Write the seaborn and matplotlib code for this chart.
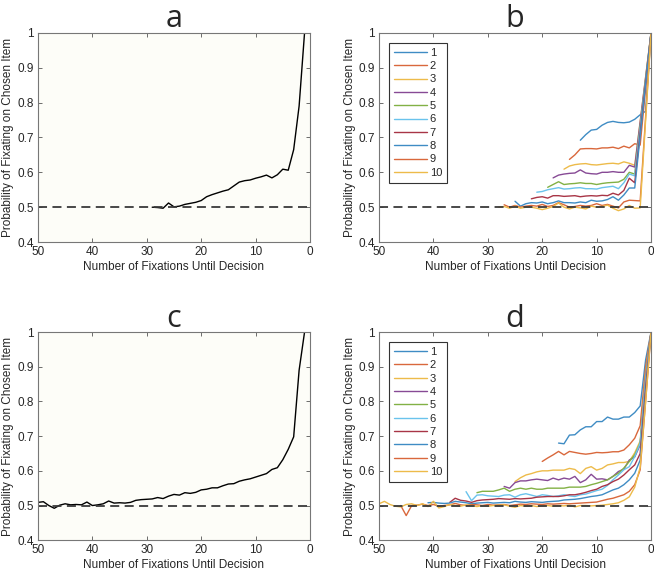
import numpy as np
import pandas as pd
import matplotlib.pyplot as plt
import seaborn as sns
from matplotlib.lines import Line2D

# Pooled data (panels a and c), x = fixations until decision
A_X = list(range(29, 0, -1))
A_Y = [0.500, 0.499, 0.497, 0.512, 0.501, 0.503, 0.508, 0.511, 0.514, 0.519,
       0.530, 0.536, 0.541, 0.546, 0.550, 0.561, 0.572, 0.576, 0.578, 0.583,
       0.587, 0.592, 0.584, 0.593, 0.609, 0.606, 0.665, 0.790, 1.000]

C_X = list(range(50, 0, -1))
C_Y = [0.509, 0.511, 0.500, 0.492, 0.501, 0.505, 0.502, 0.503, 0.502, 0.510,
       0.500, 0.502, 0.505, 0.513, 0.507, 0.508, 0.507, 0.509, 0.515, 0.517,
       0.518, 0.519, 0.523, 0.520, 0.527, 0.532, 0.530, 0.537, 0.535, 0.538,
       0.545, 0.547, 0.551, 0.551, 0.557, 0.562, 0.563, 0.570, 0.574, 0.577,
       0.582, 0.587, 0.592, 0.604, 0.609, 0.632, 0.662, 0.698, 0.890, 1.000]

# Per-group curves (panels b and d); each list runs from its first x down to x = 0
B1 = [0.692, 0.708, 0.721, 0.723, 0.735, 0.743, 0.746, 0.743, 0.742, 0.744, 0.752, 0.765, 0.775, 1.0]
B2 = [0.637, 0.650, 0.667, 0.668, 0.668, 0.667, 0.670, 0.670, 0.672, 0.668, 0.675, 0.670, 0.682, 0.678,
      None, 1.0]
B3 = [0.609, 0.618, 0.622, 0.624, 0.625, 0.622, 0.621, 0.623, 0.625, 0.626, 0.624, 0.630, 0.626, 0.620,
      None, None, 1.0]
B4 = [0.584, 0.592, 0.595, 0.597, 0.598, 0.607, 0.598, 0.596, 0.595, 0.600, 0.600, 0.602, 0.600, 0.600,
      0.620, 0.615, None, None, 1.0]
B5 = [0.557, 0.565, 0.573, 0.565, 0.567, 0.568, 0.570, 0.568, 0.568, 0.565, 0.568, 0.570, 0.571, 0.572,
      0.580, 0.600, 0.595, None, None, 1.0]
B6 = [0.543, 0.545, 0.550, 0.553, 0.556, 0.552, 0.553, 0.555, 0.556, 0.553, 0.553, 0.552, 0.556, 0.558,
      0.560, 0.553, 0.570, 0.595, 0.590, None, None, 1.0]
B7 = [0.524, 0.528, 0.530, 0.526, 0.533, 0.533, 0.531, 0.532, 0.533, 0.530, 0.532, 0.533, 0.532, 0.534,
      0.533, 0.540, 0.535, 0.548, 0.583, 0.570, None, None, 1.0]
B8 = [0.517, 0.503, 0.510, 0.513, 0.512, 0.515, 0.510, 0.513, 0.518, 0.513, 0.513, 0.512, 0.515, 0.513,
      0.520, 0.517, 0.518, 0.522, 0.530, 0.520, 0.535, 0.555, 0.555, None, None, 1.0]
B9 = [0.507, 0.500, 0.505, 0.500, 0.503, 0.505, 0.503, 0.508, 0.502, 0.505, 0.513, 0.507, 0.500, 0.502,
      0.505, 0.503, 0.505, 0.510, 0.505, 0.508, 0.503, 0.498, 0.515, 0.520, 0.519, 0.518, None, 1.0]
B10 = [0.500, 0.502, 0.497, 0.503, 0.497, 0.500, 0.500, 0.497, 0.493, 0.497, 0.502, 0.512, 0.500, 0.495,
       0.500, 0.498, 0.495, 0.503, 0.500, 0.502, 0.506, 0.497, 0.490, 0.495, 0.505, 0.497, 0.498, None, 1.0]

D1 = [0.680, 0.678, 0.703, 0.704, 0.718, 0.727, 0.727, 0.742, 0.742, 0.755, 0.749, 0.749, 0.755, 0.755,
      0.768, 0.787, 0.920, 1.0]
D2 = [0.627, 0.637, 0.646, 0.656, 0.646, 0.656, 0.653, 0.650, 0.648, 0.650, 0.653, 0.652, 0.653, 0.655,
      0.655, 0.660, 0.675, 0.694, 0.730, 0.900, 1.0]
D3 = [0.569, 0.580, 0.588, 0.592, 0.597, 0.600, 0.600, 0.602, 0.602, 0.602, 0.607, 0.604, 0.592, 0.607,
      0.612, 0.602, 0.607, 0.617, 0.620, 0.624, 0.624, 0.627, 0.652, 0.686, 0.880, 1.0]
D4 = [0.555, 0.550, 0.566, 0.571, 0.571, 0.574, 0.576, 0.574, 0.572, 0.579, 0.574, 0.579, 0.576, 0.584,
      0.566, 0.574, 0.590, 0.576, 0.577, 0.574, 0.584, 0.598, 0.605, 0.631, 0.640, 0.675, 0.870, 1.0]
D5 = [0.537, 0.541, 0.541, 0.541, 0.545, 0.550, 0.541, 0.547, 0.550, 0.547, 0.550, 0.547, 0.547, 0.550,
      0.550, 0.550, 0.550, 0.553, 0.553, 0.553, 0.555, 0.560, 0.564, 0.569, 0.574, 0.584, 0.593, 0.608,
      0.627, 0.646, 0.680, 0.860, 1.0]
D6 = [0.540, 0.514, 0.530, 0.531, 0.528, 0.527, 0.526, 0.530, 0.531, 0.524, 0.531, 0.534, 0.530, 0.526,
      0.531, 0.529, 0.526, 0.528, 0.531, 0.528, 0.526, 0.531, 0.533, 0.538, 0.543, 0.547, 0.558, 0.574,
      0.588, 0.603, 0.612, 0.641, 0.680, 0.860, 1.0]
D7 = [0.509, 0.521, 0.515, 0.513, 0.509, 0.514, 0.516, 0.517, 0.518, 0.520, 0.519, 0.518, 0.520, 0.519,
      0.520, 0.521, 0.524, 0.525, 0.526, 0.526, 0.526, 0.528, 0.531, 0.531, 0.534, 0.538, 0.543, 0.547,
      0.555, 0.560, 0.569, 0.576, 0.588, 0.603, 0.617, 0.650, 0.840, 1.0]
D8 = [0.508, 0.509, 0.507, 0.506, 0.507, 0.512, 0.510, 0.508, 0.505, 0.507, 0.508, 0.509, 0.507, 0.508,
      0.509, 0.508, 0.512, 0.510, 0.509, 0.511, 0.510, 0.509, 0.511, 0.512, 0.513, 0.516, 0.517, 0.518,
      0.520, 0.523, 0.526, 0.528, 0.531, 0.538, 0.545, 0.550, 0.560, 0.574, 0.593, 0.631, 0.820, 1.0]
D9 = [0.500, 0.471, 0.500, 0.501, 0.504, 0.500, 0.503, 0.498, 0.500, 0.502, 0.506, 0.502, 0.500, 0.503,
      0.502, 0.500, 0.503, 0.501, 0.502, 0.503, 0.500, 0.502, 0.504, 0.503, 0.505, 0.504, 0.503, 0.505,
      0.504, 0.505, 0.506, 0.505, 0.506, 0.507, 0.508, 0.509, 0.510, 0.514, 0.518, 0.521, 0.526, 0.531,
      0.541, 0.560, 0.603, 0.800, 1.0]
D10 = [0.505, 0.512, 0.503, 0.498, 0.496, 0.503, 0.505, 0.500, 0.505, 0.497, 0.512, 0.493, 0.497, 0.503,
       0.500, 0.498, 0.502, 0.500, 0.497, 0.500, 0.498, 0.500, 0.501, 0.502, 0.498, 0.495, 0.500, 0.498,
       0.500, 0.497, 0.499, 0.500, 0.498, 0.500, 0.499, 0.501, 0.496, 0.500, 0.500, 0.499, 0.500, 0.501,
       0.503, 0.505, 0.508, 0.515, 0.525, 0.553, 0.610, 0.800, 1.0]

SERIES = [str(i) for i in range(1, 11)]
B_LINES = [B1, B2, B3, B4, B5, B6, B7, B8, B9, B10]
D_LINES = [D1, D2, D3, D4, D5, D6, D7, D8, D9, D10]

X_TICKS = [0, 10, 20, 30, 40, 50]
Y_TICKS = [0.4, 0.5, 0.6, 0.7, 0.8, 0.9, 1.0]
Y_TICKLABELS = ["0.4", "0.5", "0.6", "0.7", "0.8", "0.9", "1"]

# matlab-ish line colours (slightly washed out like the source image)
COLORS = ["#3f8cc4", "#d9683c", "#edbb4a", "#874a95", "#82b145",
          "#6ac3ec", "#a83546", "#3f8cc4", "#d9683c", "#edbb4a"]


def to_long(lines):
    rows = []
    for name, vals in zip(SERIES, lines):
        n = len(vals)
        for i, v in enumerate(vals):
            rows.append({"x": n - 1 - i, "p": np.nan if v is None else v, "group": name})
    return pd.DataFrame(rows).dropna()


sns.set_style("ticks")
plt.rcParams["font.family"] = ["Liberation Sans", "DejaVu Sans"]

fig = plt.figure(figsize=(6.54, 5.75), dpi=100)
pos = {
    "a": [0.058, 0.579, 0.416, 0.364],
    "b": [0.5795, 0.579, 0.416, 0.364],
    "c": [0.058, 0.0605, 0.416, 0.362],
    "d": [0.5795, 0.0605, 0.416, 0.362],
}
axes = {k: fig.add_axes(v) for k, v in pos.items()}

# single-curve panels
for key, xs, ys in [("a", A_X, A_Y), ("c", C_X, C_Y)]:
    ax = axes[key]
    ax.set_facecolor("#fdfdf8")
    sns.lineplot(x=xs, y=ys, color="black", lw=1.0, ax=ax)

# grouped panels
for key, lines in [("b", B_LINES), ("d", D_LINES)]:
    ax = axes[key]
    df = to_long(lines)
    sns.lineplot(data=df, x="x", y="p", hue="group", hue_order=SERIES,
                 palette=COLORS, lw=1.0, ax=ax, legend=False, sort=False)
    handles = [Line2D([0], [0], color=c, lw=1.0) for c in COLORS]
    leg = ax.legend(handles, SERIES, loc="upper left", bbox_to_anchor=(0.037, 0.952),
                    borderaxespad=0, fontsize=8, handlelength=3.0, labelspacing=0.3,
                    handletextpad=0.2, borderpad=0.45, fancybox=False, framealpha=1)
    leg.get_frame().set_edgecolor("#333333")
    leg.get_frame().set_linewidth(0.8)

for key, ax in axes.items():
    ax.axhline(0.5, color="#3a3a3a", lw=1.3, ls=(0, (5, 3)))
    ax.set_xlim(50, 0)
    ax.set_ylim(0.4, 1.0)
    ax.set_xticks(X_TICKS)
    ax.set_xticklabels([str(t) for t in X_TICKS])
    ax.set_yticks(Y_TICKS)
    ax.set_yticklabels(Y_TICKLABELS)
    ax.tick_params(direction="in", top=True, right=True, length=3, width=0.6,
                   color="#555555", labelcolor="#262626", labelsize=8.5, pad=3)
    for s in ax.spines.values():
        s.set_color("#777777")
        s.set_linewidth(0.8)
    ax.set_xlabel("Number of Fixations Until Decision", fontsize=8.5, color="#262626", labelpad=2)
    ax.set_ylabel("Probability of Fixating on Chosen Item", fontsize=8.5, color="#262626", labelpad=2)
    ax.set_title(key, fontsize=22, family="Open Sans", pad=4)

fig.savefig("out.png", dpi=100)
